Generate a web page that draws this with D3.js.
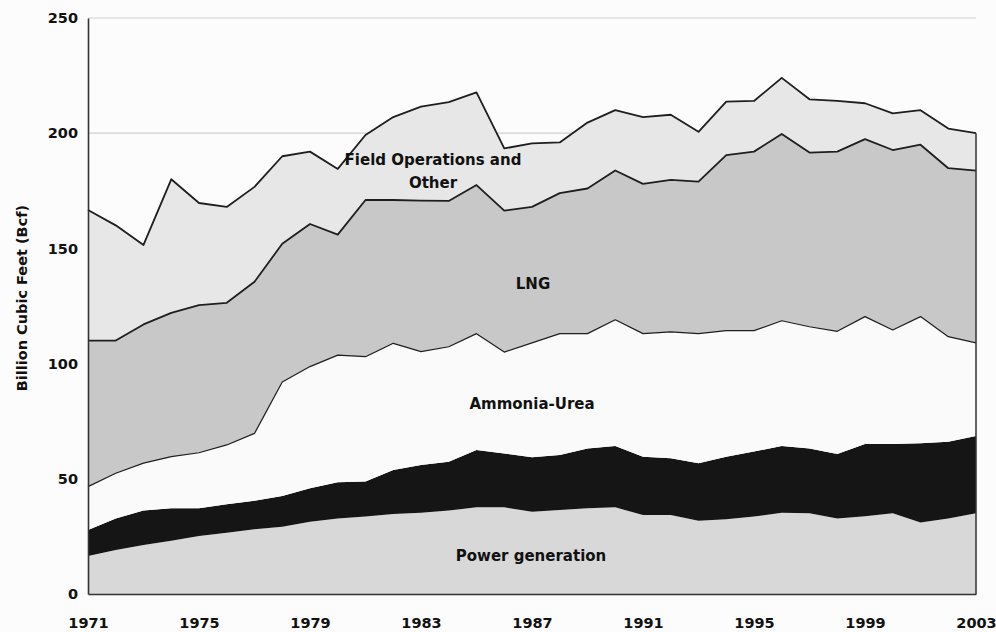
<!DOCTYPE html>
<html>
<head>
<meta charset="utf-8">
<script src="https://cdn.jsdelivr.net/npm/d3@7"></script>
<style>
  body { margin: 0; background: #fcfcfc; }
  svg { display: block; }
</style>
</head>
<body>
<svg id="svg"></svg>
<script>
const width = 996;
const height = 632;

// data (Bcf per year, one value per layer)
const years = d3.range(1971, 2004);
const yearTicks = [1971, 1975, 1979, 1983, 1987, 1991, 1995, 1999, 2003];
const valueTicks = [0, 50, 100, 150, 200, 250];

const powerGeneration = [16.5, 19.1, 21.3, 23.1, 25.2, 26.6, 28.1, 29.2, 31.4, 32.8, 33.6, 34.7, 35.3, 36.2, 37.6, 37.6, 35.7, 36.5, 37.2, 37.6, 34.3, 34.3, 31.8, 32.4, 33.6, 35.3, 35.0, 32.8, 33.8, 35.0, 31.0, 32.8, 35.0];
const blackBand = [11.3, 13.7, 14.9, 14.1, 12.0, 12.4, 12.4, 13.3, 14.5, 15.7, 15.2, 19.1, 20.7, 21.2, 24.9, 23.4, 23.6, 23.8, 26.0, 26.6, 25.3, 24.6, 24.9, 27.2, 28.2, 28.9, 28.2, 28.0, 31.3, 30.1, 34.4, 33.3, 33.6];
const ammoniaUrea = [18.8, 19.6, 20.6, 22.4, 24.1, 25.7, 29.2, 49.5, 52.8, 55.2, 54.2, 55.0, 49.2, 49.9, 50.5, 44.0, 49.7, 52.7, 49.8, 54.8, 53.4, 54.9, 56.3, 54.7, 52.5, 54.4, 52.8, 53.2, 55.3, 49.5, 55.0, 45.6, 40.4];
const lng = [63.4, 57.6, 60.2, 62.4, 64.1, 61.7, 65.8, 60.0, 61.9, 52.3, 68.0, 62.2, 65.5, 63.3, 64.5, 61.4, 59.0, 61.0, 63.0, 64.8, 65.0, 65.9, 66.0, 76.2, 77.7, 81.1, 75.6, 78.0, 77.0, 78.1, 74.6, 73.1, 74.8];
const fieldOperations = [56.7, 50.0, 34.5, 58.0, 44.3, 41.6, 41.2, 38.0, 31.4, 28.5, 28.2, 36.0, 40.8, 42.9, 40.2, 27.0, 27.6, 22.0, 28.6, 26.2, 29.0, 28.3, 21.6, 23.2, 22.0, 24.3, 23.1, 22.0, 15.6, 15.9, 15.0, 17.2, 16.2];

const layerKeys = ["power", "black", "ammonia", "lng", "field"];
const layerColours = {
    power: "#d8d8d8",
    black: "#151515",
    ammonia: "#fafafa",
    lng: "#c8c8c8",
    field: "#e7e7e7"
};
// which layer tops get a dark outline
const outlined = ["ammonia", "lng", "field"];

const font = "'DejaVu Sans', Verdana, sans-serif";

let svg = d3.select("#svg")
    .attr("width", width)
    .attr("height", height);

const margin = { top: 18, right: 20, bottom: 38, left: 88 };

let xScale = d3.scaleLinear()
    .domain([1971, 2003])
    .range([margin.left, width - margin.right]);

let yScale = d3.scaleLinear()
    .domain([0, 250])
    .range([height - margin.bottom, margin.top]);

// build the table d3.stack wants
const table = years.map((yr, i) => ({
    year: yr,
    power: powerGeneration[i],
    black: blackBand[i],
    ammonia: ammoniaUrea[i],
    lng: lng[i],
    field: fieldOperations[i]
}));

const stacked = d3.stack().keys(layerKeys)(table);

// light gridlines (only the upper ones show above the areas)
svg.append("g")
    .selectAll("line")
    .data(valueTicks.filter(v => v > 0))
    .enter().append("line")
    .attr("x1", xScale(1971))
    .attr("x2", xScale(2003))
    .attr("y1", d => yScale(d))
    .attr("y2", d => yScale(d))
    .attr("stroke", "#cfcfcf")
    .attr("stroke-width", 1.2);

const area = d3.area()
    .x(d => xScale(d.data.year))
    .y0(d => yScale(d[0]))
    .y1(d => yScale(d[1]));

svg.append("g")
    .selectAll("path")
    .data(stacked)
    .enter().append("path")
    .attr("d", area)
    .attr("fill", d => layerColours[d.key]);

const topLine = d3.line()
    .x(d => xScale(d.data.year))
    .y(d => yScale(d[1]));

svg.append("g")
    .selectAll("path")
    .data(stacked.filter(s => outlined.includes(s.key)))
    .enter().append("path")
    .attr("d", topLine)
    .attr("fill", "none")
    .attr("stroke", "#1e1e1e")
    .attr("stroke-width", d => d.key === "ammonia" ? 1.2 : 1.8)
    .attr("stroke-linejoin", "round");

// right edge of the areas
const lastTotal = stacked[stacked.length - 1][years.length - 1][1];
svg.append("line")
    .attr("x1", xScale(2003))
    .attr("x2", xScale(2003))
    .attr("y1", yScale(lastTotal))
    .attr("y2", yScale(0))
    .attr("stroke", "#333")
    .attr("stroke-width", 1.5);

// y axis
let yAxis = svg.append("g")
    .attr("transform", "translate(" + margin.left + ",0)")
    .call(d3.axisLeft(yScale).tickValues(valueTicks).tickSize(0).tickPadding(10));
yAxis.select(".domain").attr("stroke", "#333").attr("stroke-width", 1.6);
yAxis.selectAll("text")
    .style("font-family", font)
    .style("font-weight", "bold")
    .style("font-size", "14.5px")
    .style("fill", "#111");

// x axis
let xAxis = svg.append("g")
    .attr("transform", "translate(0," + yScale(0) + ")")
    .call(d3.axisBottom(xScale).tickValues(yearTicks).tickFormat(d3.format("d")).tickSize(0).tickPadding(24));
xAxis.select(".domain").attr("stroke", "#333").attr("stroke-width", 1.6);
xAxis.selectAll("text")
    .style("font-family", font)
    .style("font-weight", "bold")
    .style("font-size", "14.5px")
    .style("fill", "#111");

// y title
svg.append("text")
    .attr("transform", "translate(27," + 298 + ") rotate(-90)")
    .attr("text-anchor", "middle")
    .style("font-family", font)
    .style("font-weight", "bold")
    .style("font-size", "14.5px")
    .style("fill", "#111")
    .text("Billion Cubic Feet (Bcf)");

// in-chart labels
const labels = [
    { text: "Field Operations and", x: 433, y: 165 },
    { text: "Other", x: 433, y: 188 },
    { text: "LNG", x: 533, y: 289 },
    { text: "Ammonia-Urea", x: 532, y: 409 },
    { text: "Power generation", x: 531, y: 561 }
];

svg.append("g")
    .selectAll("text")
    .data(labels)
    .enter().append("text")
    .attr("x", d => d.x)
    .attr("y", d => d.y)
    .attr("text-anchor", "middle")
    .style("font-family", font)
    .style("font-weight", "bold")
    .style("font-size", "15px")
    .style("fill", "#111")
    .text(d => d.text);
</script>
</body>
</html>
